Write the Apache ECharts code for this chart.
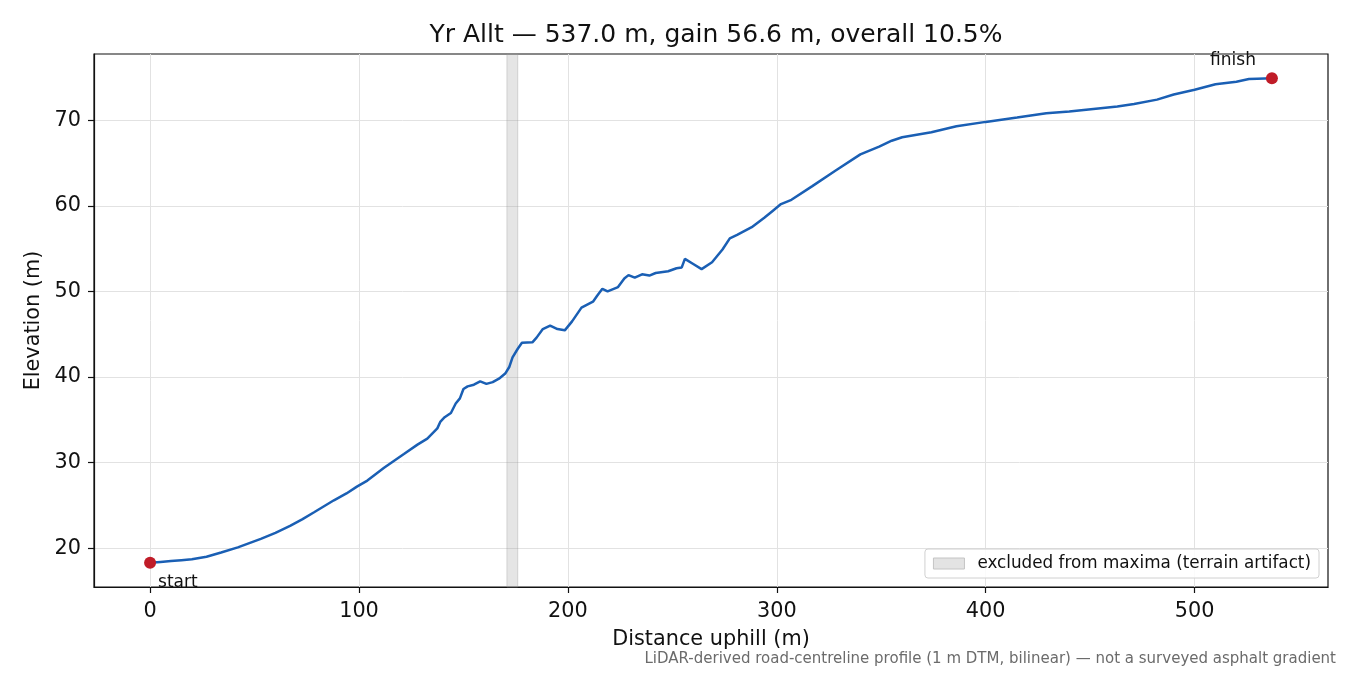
<!DOCTYPE html>
<html>
<head>
<meta charset="utf-8">
<title>Yr Allt profile</title>
<script src="https://cdn.jsdelivr.net/npm/echarts@6/dist/echarts.min.js"></script>
<style>
  html, body { margin: 0; padding: 0; background: #fff; }
  #chart { width: 1350px; height: 675px; }
</style>
</head>
<body>
<div id="chart"></div>
<script>
// profile
var distance = [0, 5, 10, 15, 20, 27, 34, 42, 53, 60, 67, 73, 78.5, 88, 94, 99, 104, 112, 121.5, 128,
    132.7, 137.5, 139, 141, 144, 146.3, 148.3, 150, 152, 155, 158, 161, 164, 167, 170, 172, 173.5, 176, 178, 183,
    185, 188, 191.5, 195, 198.5, 202, 206.5, 212, 214, 216.5, 219, 224, 227, 229, 232, 235.5, 239, 242, 248, 252,
    254.5, 256, 260, 264, 269, 274, 277.5, 281, 288, 294, 298, 302, 307, 317, 328, 340, 349, 355, 360, 374,
    386, 400, 415, 429, 440, 455, 463, 471, 482, 490, 500, 510, 520, 526, 530, 537];
var elevation = [18.3, 18.4, 18.5, 18.6, 18.7, 19.0, 19.5, 20.1, 21.1, 21.8, 22.6, 23.4, 24.2, 25.6, 26.4, 27.2, 27.9, 29.4, 31.0, 32.1,
    32.8, 34.0, 34.8, 35.3, 35.8, 36.9, 37.5, 38.6, 38.9, 39.1, 39.5, 39.2, 39.4, 39.8, 40.4, 41.2, 42.3, 43.3, 44.0, 44.05,
    44.6, 45.6, 46.0, 45.6, 45.45, 46.5, 48.1, 48.8, 49.5, 50.3, 50.0, 50.5, 51.5, 51.9, 51.6, 52.0, 51.85, 52.15, 52.35, 52.7,
    52.8, 53.8, 53.2, 52.6, 53.4, 54.9, 56.2, 56.6, 57.5, 58.6, 59.4, 60.2, 60.7, 62.3, 64.1, 66.0, 66.9, 67.6, 68.0, 68.6,
    69.3, 69.8, 70.3, 70.8, 71.0, 71.4, 71.6, 71.9, 72.4, 73.0, 73.55, 74.2, 74.5, 74.8, 74.85, 74.9];
var excluded = [170.8, 176];
var xTicks = [0, 100, 200, 300, 400, 500];
var yTicks = [20, 30, 40, 50, 60, 70];

var profile = distance.map(function (d, i) { return [d, elevation[i]]; });
var first = profile[0];
var last = profile[profile.length - 1];

// matplotlib-style 5% margins
var xPad = (last[0] - first[0]) * 0.05;
var yPad = (Math.max.apply(null, elevation) - Math.min.apply(null, elevation)) * 0.05;

var font = 'DejaVu Sans';
var bandName = 'excluded from maxima (terrain artifact)';

var myChart = echarts.init(document.getElementById('chart'));
myChart.setOption({
    animation: false,
    textStyle: {fontFamily: font},
    title: {
        text: 'Yr Allt — 537.0 m, gain 56.6 m, overall 10.5%',
        left: 711,
        textAlign: 'center',
        top: 18,
        textStyle: {fontFamily: font, fontSize: 25, fontWeight: 'normal', color: '#111'}
    },
    grid: {
        left: 94,
        right: 22,
        top: 54,
        bottom: 88,
        show: true,
        borderColor: '#111',
        borderWidth: 1.2,
        backgroundColor: 'transparent'
    },
    legend: {
        right: 31,
        bottom: 97,
        orient: 'vertical',
        itemWidth: 31,
        itemHeight: 11,
        padding: [6, 8, 6, 8],
        backgroundColor: 'rgba(255,255,255,0.85)',
        borderColor: '#d0d0d0',
        borderWidth: 1,
        borderRadius: 3,
        textStyle: {fontFamily: font, fontSize: 16.8, color: '#111', padding: [0, 0, 0, 8]},
        data: [{
            name: bandName,
            icon: 'rect',
            itemStyle: {color: '#e3e3e3', borderColor: '#c4c4c4', borderWidth: 1}
        }]
    },
    xAxis: {
        type: 'value',
        min: first[0] - xPad,
        max: last[0] + xPad,
        name: 'Distance uphill (m)',
        nameLocation: 'middle',
        nameGap: 42,
        nameTextStyle: {fontFamily: font, fontSize: 20.8, color: '#111'},
        axisLine: {show: true, onZero: false, lineStyle: {color: '#111', width: 1.2}},
        axisTick: {show: true, length: 6, customValues: xTicks, lineStyle: {color: '#111', width: 1.2}},
        axisLabel: {margin: 14, customValues: xTicks, fontFamily: font, fontSize: 20.8, color: '#111'},
        splitLine: {show: true, customValues: xTicks, lineStyle: {color: '#e2e2e2', width: 1}}
    },
    yAxis: {
        type: 'value',
        min: Math.min.apply(null, elevation) - yPad,
        max: Math.max.apply(null, elevation) + yPad,
        name: 'Elevation (m)',
        nameLocation: 'middle',
        nameGap: 49,
        nameTextStyle: {fontFamily: font, fontSize: 20.8, color: '#111'},
        axisLine: {show: true, onZero: false, lineStyle: {color: '#111', width: 1.2}},
        axisTick: {show: true, length: 6, customValues: yTicks, lineStyle: {color: '#111', width: 1.2}},
        axisLabel: {margin: 13, customValues: yTicks, fontFamily: font, fontSize: 20.8, color: '#111'},
        splitLine: {show: true, customValues: yTicks, lineStyle: {color: '#e2e2e2', width: 1}}
    },
    series: [
        {
            name: bandName,
            type: 'line',
            data: [],
            itemStyle: {color: '#e3e3e3'},
            markArea: {
                silent: true,
                itemStyle: {color: 'rgba(150,150,150,0.25)', borderColor: 'rgba(150,150,150,0.35)', borderWidth: 1},
                data: [[{xAxis: excluded[0]}, {xAxis: excluded[1]}]]
            }
        },
        {
            name: 'profile',
            type: 'line',
            data: profile,
            showSymbol: false,
            smooth: false,
            lineStyle: {color: '#1a5fb4', width: 2.5},
            itemStyle: {color: '#1a5fb4'},
            z: 3
        },
        {
            name: 'ends',
            type: 'scatter',
            symbolSize: 12,
            itemStyle: {color: '#c01c28', opacity: 1},
            z: 4,
            data: [
                {
                    value: first,
                    label: {show: true, formatter: 'start', position: 'inside', align: 'left', verticalAlign: 'middle',
                        offset: [8, 20], fontFamily: font, fontSize: 17, color: '#111'}
                },
                {
                    value: last,
                    label: {show: true, formatter: 'finish', position: 'inside', align: 'right', verticalAlign: 'middle',
                        offset: [-16, -18], fontFamily: font, fontSize: 17, color: '#111'}
                }
            ]
        }
    ],
    graphic: [{
        type: 'text',
        right: 14,
        top: 652,
        style: {
            text: 'LiDAR-derived road-centreline profile (1 m DTM, bilinear) — not a surveyed asphalt gradient',
            fontFamily: font,
            fontSize: 15,
            fill: '#6b6b6b'
        }
    }]
});
</script>
</body>
</html>
